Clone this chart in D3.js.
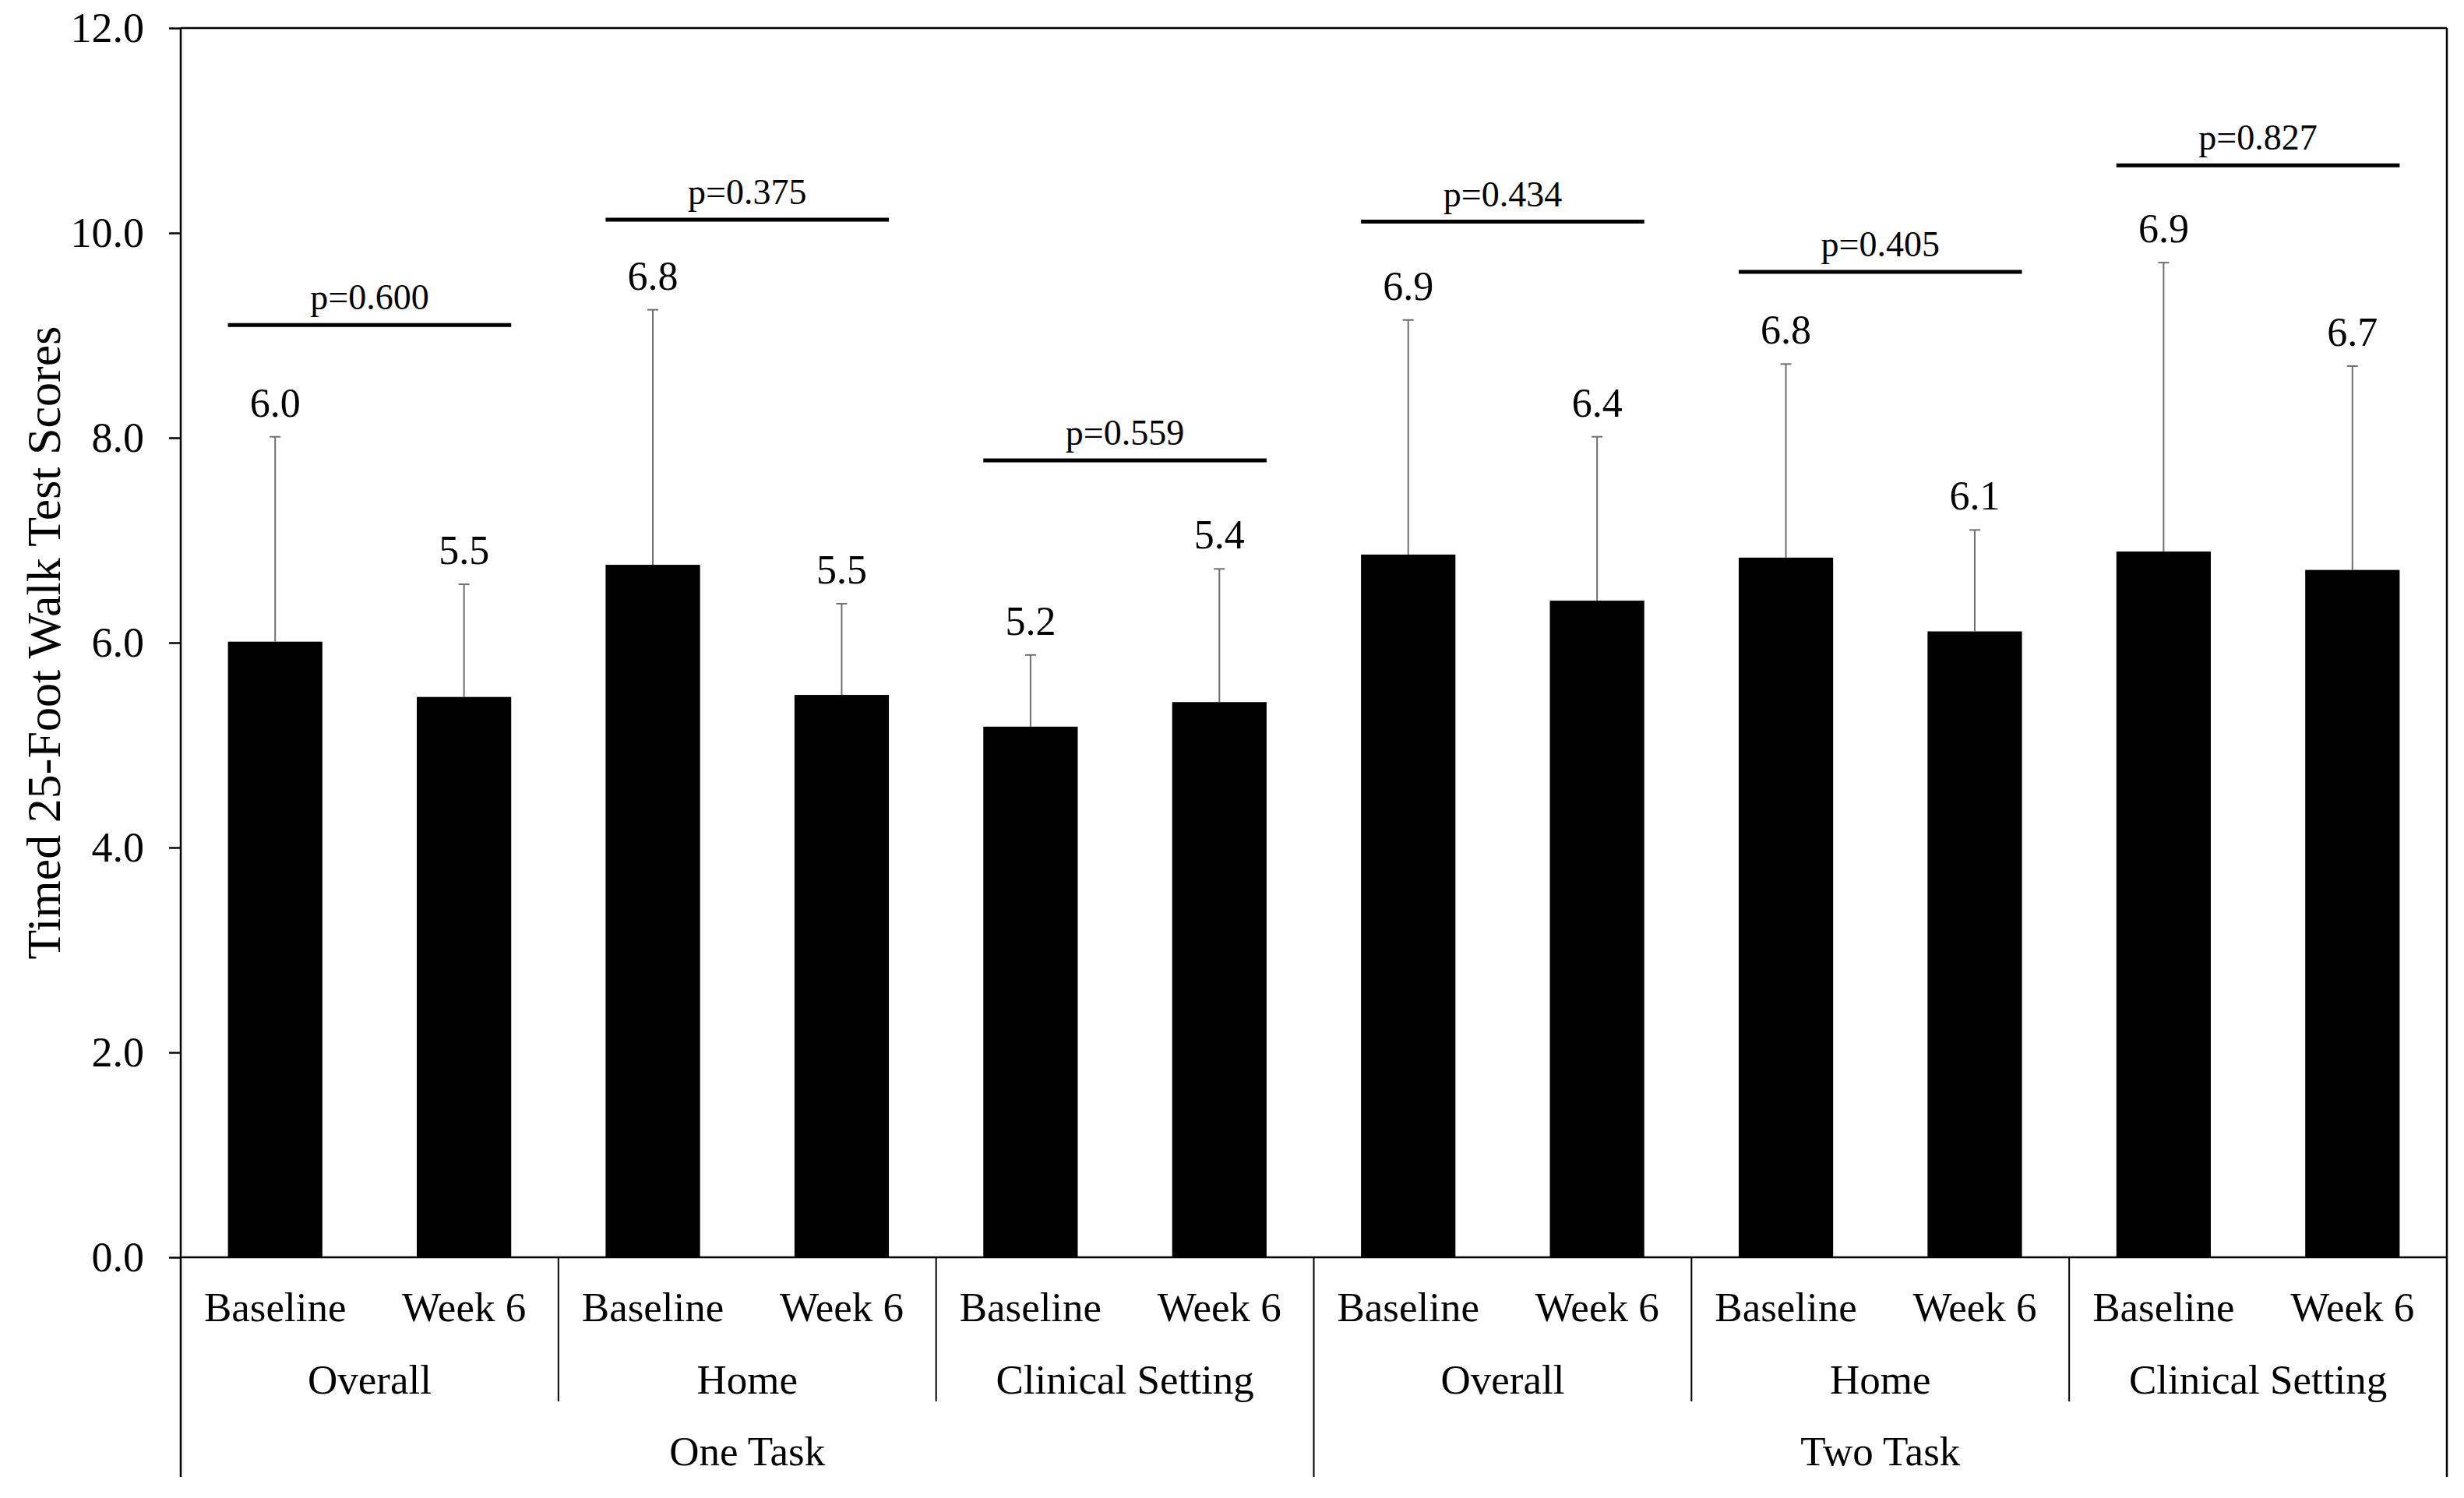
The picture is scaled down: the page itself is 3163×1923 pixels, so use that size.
<!DOCTYPE html>
<html>
<head>
<meta charset="utf-8">
<script src="https://cdn.jsdelivr.net/npm/d3@7"></script>
<style>
  body { margin: 0; background: #fff; }
  text { font-family: "Liberation Serif", "Times New Roman", serif; fill: #000; }
</style>
</head>
<body>
<svg id="chart"></svg>
<script>
// data
const tasks = ['One Task', 'Two Task'];
const settings = ['Overall', 'Home', 'Clinical Setting'];
const times = ['Baseline', 'Week 6'];
const means = [6.01, 5.47, 6.76, 5.49, 5.18, 5.42, 6.86, 6.41, 6.83, 6.11, 6.89, 6.71];
const sds = [2.00, 1.10, 2.49, 0.89, 0.70, 1.30, 2.29, 1.60, 1.89, 0.99, 2.82, 1.99];
const pLabels = ['p=0.600', 'p=0.375', 'p=0.559', 'p=0.434', 'p=0.405', 'p=0.827'];
const pLevels = [9.10, 10.13, 7.78, 10.11, 9.62, 10.66];
const yTicks = [0, 2, 4, 6, 8, 10, 12];

const width = 3163;
const height = 1923;
const plotLeft = 232, plotRight = 3141, plotTop = 36, plotBottom = 1614;

const svg = d3.select('#chart').attr('width', width).attr('height', height);

// one entry per bar
const bars = [];
tasks.forEach((task) => {
  settings.forEach((setting) => {
    times.forEach((time) => {
      const i = bars.length;
      bars.push({ id: i, task, setting, time, mean: means[i], sd: sds[i] });
    });
  });
});

const x = d3.scaleBand()
  .domain(bars.map(d => d.id))
  .range([plotLeft, plotRight])
  .paddingInner(0.5)
  .paddingOuter(0.25);

const y = d3.scaleLinear().domain([0, 12]).range([plotBottom, plotTop]);

const step = x.step();
const edge = i => plotLeft + i * step; // boundary before bar i

// y axis
const yAxis = d3.axisLeft(y)
  .tickValues(yTicks)
  .tickFormat(d3.format('.1f'))
  .tickSize(15)
  .tickSizeOuter(0)
  .tickPadding(32);

const gy = svg.append('g').attr('transform', `translate(${plotLeft},0)`).call(yAxis);
gy.select('.domain').remove();
gy.selectAll('.tick line').attr('stroke', '#000').attr('stroke-width', 2.5);
gy.selectAll('.tick text')
  .attr('font-size', 54)
  .attr('font-family', '"Liberation Serif", "Times New Roman", serif')
  .attr('fill', '#000');

// frame: top, right, left, baseline
const frame = svg.append('g').attr('stroke', '#000').attr('stroke-width', 2.5);
frame.append('line').attr('x1', plotLeft).attr('x2', plotRight).attr('y1', y(12)).attr('y2', y(12));
frame.append('line').attr('x1', plotLeft).attr('x2', plotRight).attr('y1', y(0)).attr('y2', y(0));
frame.append('line').attr('x1', plotLeft).attr('x2', plotLeft).attr('y1', y(12)).attr('y2', 1896);
frame.append('line').attr('x1', plotRight).attr('x2', plotRight).attr('y1', y(12)).attr('y2', 1896);

// bars
svg.append('g')
  .selectAll('rect')
  .data(bars)
  .join('rect')
  .attr('x', d => x(d.id))
  .attr('y', d => y(d.mean))
  .attr('width', x.bandwidth())
  .attr('height', d => y(0) - y(d.mean))
  .attr('fill', '#000');

// error bars (upper half only shows)
const eb = svg.append('g').attr('stroke', '#6e6e6e').attr('stroke-width', 2);
eb.selectAll('line.v')
  .data(bars)
  .join('line')
  .attr('class', 'v')
  .attr('x1', d => x(d.id) + x.bandwidth() / 2)
  .attr('x2', d => x(d.id) + x.bandwidth() / 2)
  .attr('y1', d => y(d.mean))
  .attr('y2', d => y(d.mean + d.sd));
eb.selectAll('line.cap')
  .data(bars)
  .join('line')
  .attr('class', 'cap')
  .attr('x1', d => x(d.id) + x.bandwidth() / 2 - 7)
  .attr('x2', d => x(d.id) + x.bandwidth() / 2 + 7)
  .attr('y1', d => y(d.mean + d.sd))
  .attr('y2', d => y(d.mean + d.sd));

// value labels
svg.append('g')
  .selectAll('text')
  .data(bars)
  .join('text')
  .attr('x', d => x(d.id) + x.bandwidth() / 2)
  .attr('y', d => y(d.mean + d.sd) - 26)
  .attr('text-anchor', 'middle')
  .attr('font-size', 52)
  .text(d => d.mean.toFixed(1));

// p-value brackets
const pg = svg.append('g');
pLabels.forEach((label, g) => {
  const a = bars[g * 2], b = bars[g * 2 + 1];
  const x1 = x(a.id), x2 = x(b.id) + x.bandwidth();
  pg.append('line')
    .attr('x1', x1).attr('x2', x2)
    .attr('y1', y(pLevels[g])).attr('y2', y(pLevels[g]))
    .attr('stroke', '#000').attr('stroke-width', 5);
  pg.append('text')
    .attr('x', (x1 + x2) / 2)
    .attr('y', y(pLevels[g]) - 20)
    .attr('text-anchor', 'middle')
    .attr('font-size', 46)
    .text(label);
});

// category labels, three rows
const lab = svg.append('g').attr('text-anchor', 'middle').attr('font-size', 53);
lab.selectAll('text.time')
  .data(bars)
  .join('text')
  .attr('class', 'time')
  .attr('x', d => x(d.id) + x.bandwidth() / 2)
  .attr('y', 1696)
  .text(d => d.time);

const groups = d3.range(tasks.length * settings.length);
lab.selectAll('text.setting')
  .data(groups)
  .join('text')
  .attr('class', 'setting')
  .attr('x', g => (edge(g * 2) + edge(g * 2 + 2)) / 2)
  .attr('y', 1789)
  .text(g => settings[g % settings.length]);

lab.selectAll('text.task')
  .data(tasks)
  .join('text')
  .attr('class', 'task')
  .attr('x', (d, t) => (edge(t * 6) + edge(t * 6 + 6)) / 2)
  .attr('y', 1881)
  .text(d => d);

// separators below the axis
const sep = svg.append('g').attr('stroke', '#000').attr('stroke-width', 2);
[2, 4, 8, 10].forEach(i => {
  sep.append('line').attr('x1', edge(i)).attr('x2', edge(i)).attr('y1', y(0)).attr('y2', 1799);
});
sep.append('line').attr('x1', edge(6)).attr('x2', edge(6)).attr('y1', y(0)).attr('y2', 1896);

// y axis title
svg.append('text')
  .attr('transform', `translate(56,${(plotTop + plotBottom) / 2}) rotate(-90)`)
  .attr('text-anchor', 'middle')
  .attr('dominant-baseline', 'central')
  .attr('font-size', 62)
  .text('Timed 25-Foot Walk Test Scores');
</script>
</body>
</html>
